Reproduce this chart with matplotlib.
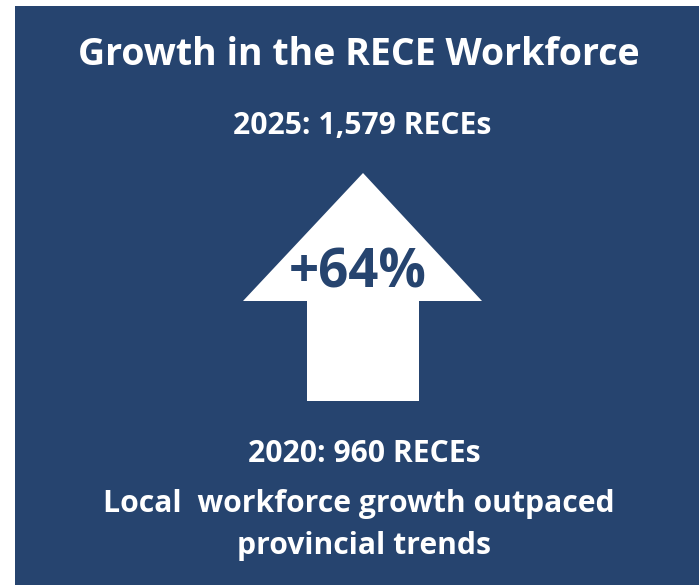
import matplotlib.pyplot as plt
from matplotlib.patches import Polygon, Rectangle

# workforce counts
years = [2020, 2025]
counts = [960, 1579]
growth_pct = round((counts[1] / counts[0] - 1) * 100)

title = "Growth in the RECE Workforce"
note_lines = ["Local  workforce growth outpaced", "provincial trends"]

bg = "#26446F"
W, H = 699, 585

fig = plt.figure(figsize=(W / 100, H / 100), dpi=100)
ax = fig.add_axes([0, 0, 1, 1])
ax.set_xlim(0, W)
ax.set_ylim(H, 0)
ax.axis("off")

ax.add_patch(Rectangle((15, 6), W - 15, H - 6, facecolor=bg, edgecolor="none"))

# up arrow
arrow = [(363, 173), (482, 301), (419, 301), (419, 401),
         (307, 401), (307, 301), (243, 301)]
ax.add_patch(Polygon(arrow, closed=True, facecolor="white", edgecolor="none"))

font = "Open Sans"
kw = dict(fontweight="bold", family=font, ha="center", va="baseline")
ax.text(359, 65, title, color="white", fontsize=27, **kw)
ax.text(362, 134, f"{years[1]}: {counts[1]:,} RECEs", color="white", fontsize=21.7, **kw)
ax.text(358, 288, f"+{growth_pct}%", color=bg, fontsize=38, **kw)
ax.text(364, 462, f"{years[0]}: {counts[0]:,} RECEs", color="white", fontsize=21.7, **kw)
ax.text(359, 512, note_lines[0], color="white", fontsize=21.7, **kw)
ax.text(364, 554, note_lines[1], color="white", fontsize=21.7, **kw)

fig.savefig("out.png", dpi=100)
